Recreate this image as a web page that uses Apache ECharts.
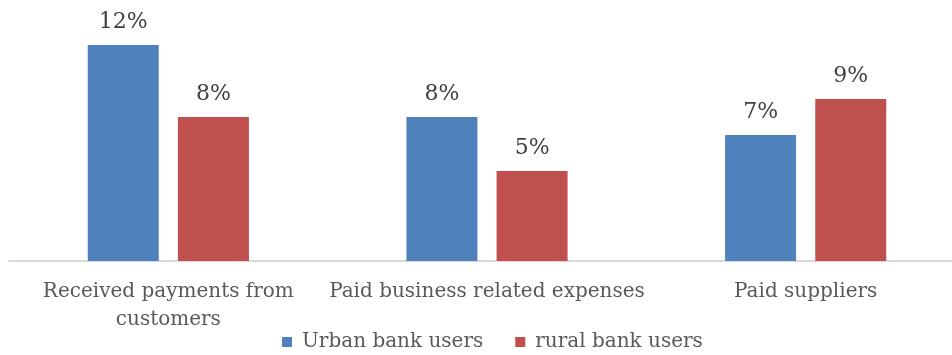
<!DOCTYPE html>
<html>
<head>
<meta charset="utf-8">
<script src="https://cdn.jsdelivr.net/npm/echarts@6/dist/echarts.min.js"></script>
<style>
  html, body { margin: 0; padding: 0; background: #ffffff; overflow: hidden; }
  /* the plot area runs a little past the right edge of the page */
  #chart { width: 965px; height: 355px; }
</style>
</head>
<body>
<div id="chart"></div>
<script>
// Share of bank users using mobile money for each business purpose (%)
const categories = ['Received payments from\ncustomers', 'Paid business related expenses', 'Paid suppliers'];
const seriesNames = ['Urban bank users', 'rural bank users'];
const urbanValues = [12, 8, 7];
const ruralValues = [8, 5, 9];

const FONT = 'DejaVu Serif';
const chart = echarts.init(document.getElementById('chart'), null, { renderer: 'canvas' });

const labelStyle = {
  show: true,
  position: 'top',
  distance: 12,
  color: '#404040',
  fontFamily: FONT,
  fontSize: 22,
  formatter: p => p.value + '%'
};

chart.setOption({
  animation: false,
  textStyle: { fontFamily: FONT },
  grid: { left: 9, right: 0, top: 9, bottom: 94, containLabel: false },
  legend: {
    data: seriesNames,
    bottom: -2,
    left: 277,
    itemWidth: 10,
    itemHeight: 10,
    itemGap: 32,
    icon: 'rect',
    textStyle: { color: '#595959', fontFamily: FONT, fontSize: 20, padding: [0, 0, 0, 5] }
  },
  xAxis: {
    type: 'category',
    data: categories,
    axisLine: { lineStyle: { color: '#d9d9d9', width: 2 } },
    axisTick: { show: false },
    axisLabel: {
      interval: 0,
      margin: 17,
      color: '#595959',
      fontFamily: FONT,
      fontSize: 20,
      lineHeight: 28
    }
  },
  yAxis: {
    type: 'value',
    min: 0,
    max: 14,
    show: false,
    splitLine: { show: false }
  },
  series: [
    {
      name: seriesNames[0],
      type: 'bar',
      data: urbanValues,
      barWidth: 71,
      barGap: '27%',
      itemStyle: { color: '#4F81BD' },
      label: labelStyle
    },
    {
      name: seriesNames[1],
      type: 'bar',
      data: ruralValues,
      barWidth: 71,
      barGap: '27%',
      itemStyle: { color: '#C0504D' },
      label: labelStyle
    }
  ]
});
</script>
</body>
</html>
